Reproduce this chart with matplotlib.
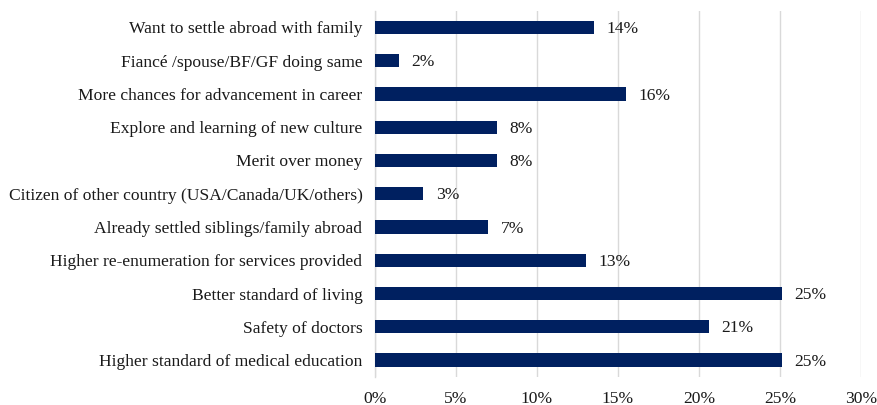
import matplotlib
matplotlib.use("Agg")
import matplotlib.pyplot as plt
from matplotlib.ticker import FuncFormatter

categories = [
    "Want to settle abroad with family",
    "Fiancé /spouse/BF/GF doing same",
    "More chances for advancement in career",
    "Explore and learning of new culture",
    "Merit over money",
    "Citizen of other country (USA/Canada/UK/others)",
    "Already settled siblings/family abroad",
    "Higher re-enumeration for services provided",
    "Better standard of living",
    "Safety of doctors",
    "Higher standard of medical education",
]
values = [13.5, 1.46, 15.5, 7.5, 7.5, 2.98, 6.99, 13.05, 25.1, 20.6, 25.1]
value_labels = ["14%", "2%", "16%", "8%", "8%", "3%", "7%", "13%", "25%", "21%", "25%"]
x_ticks = [0, 5, 10, 15, 20, 25, 30]

plt.rcParams['font.family'] = ['Liberation Serif', 'DejaVu Serif']
FS = 12.6
TXT = '#1a1a1a'

fig = plt.figure(figsize=(8.78, 4.05), dpi=100)
ax = fig.add_axes([375/878, 1 - 376.7/405, (861 - 375)/878, (376.7 - 10.7)/405])

n = len(categories)
ypos = list(range(n))
ax.barh(ypos, values, height=0.4, color='#002060', zorder=3)
for y, v, lab in zip(ypos, values, value_labels):
    ax.annotate(lab, xy=(v, y), xytext=(9, -1.2), textcoords='offset points',
                va='center', ha='left', fontsize=FS, color=TXT)

ax.set_ylim(n - 0.5, -0.5)
ax.set_yticks(ypos)
ax.set_yticklabels(categories, fontsize=FS, color=TXT)
ax.set_xlim(0, 30)
ax.set_xticks(x_ticks)
ax.xaxis.set_major_formatter(FuncFormatter(lambda x, p: f"{int(x)}%"))
for t in ax.get_xticklabels():
    t.set_fontsize(FS)
    t.set_color(TXT)

ax.tick_params(axis='y', length=0, pad=9)
ax.tick_params(axis='x', length=0, pad=10)
ax.grid(axis='x', color='#D9D9D9', linewidth=1, zorder=0)
for s in ['top', 'right', 'bottom']:
    ax.spines[s].set_visible(False)
ax.spines['left'].set_color('#D9D9D9')
ax.spines['left'].set_linewidth(1)

fig.savefig("out.png", dpi=100)
